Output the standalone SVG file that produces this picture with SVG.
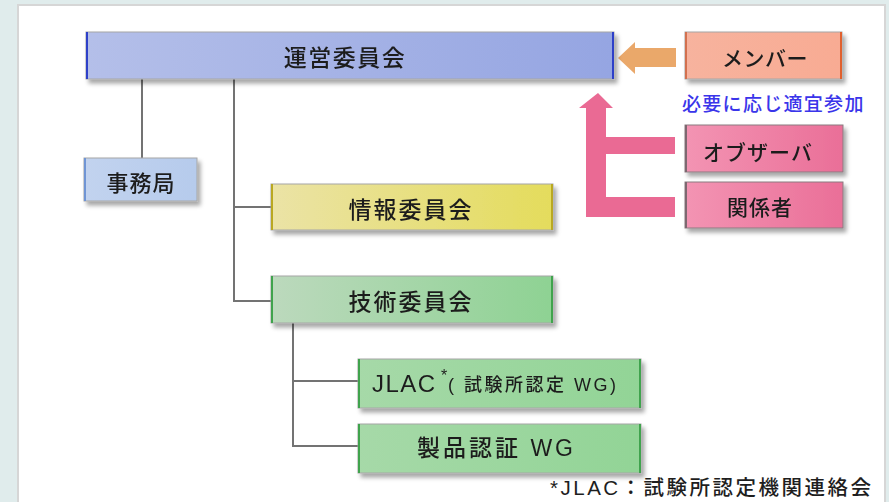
<svg xmlns="http://www.w3.org/2000/svg" width="889" height="502" viewBox="0 0 889 502">
<style>
.t{font-family:"Noto Sans CJK JP","Liberation Sans",sans-serif;fill:#1e1e1e;dominant-baseline:central;text-anchor:middle;font-weight:500}
.m{font-family:"Liberation Sans","Noto Sans CJK JP",sans-serif;fill:#1e1e1e;font-weight:500}
.box{stroke:#a6a6a6;stroke-width:1}
.ln{fill:none;stroke:#737373;stroke-width:2}
</style>
<defs>
<filter id="sh" x="-10%" y="-20%" width="125%" height="170%">
<feDropShadow dx="3" dy="4" stdDeviation="2" flood-color="#000" flood-opacity="0.35"/>
</filter>
<linearGradient id="gBlue" x1="0" x2="1" y1="0" y2="0"><stop offset="0" stop-color="#b4bfe9"/><stop offset="1" stop-color="#95a5e2"/></linearGradient>
<linearGradient id="gJimu" x1="0" x2="1"><stop offset="0" stop-color="#c2d3ef"/><stop offset="1" stop-color="#b6cbec"/></linearGradient>
<linearGradient id="gYel" x1="0" x2="1"><stop offset="0" stop-color="#ebe3a6"/><stop offset="1" stop-color="#e4dc5c"/></linearGradient>
<linearGradient id="gGrn" x1="0" x2="1"><stop offset="0" stop-color="#bcd9bd"/><stop offset="1" stop-color="#8ed293"/></linearGradient>
<linearGradient id="gGrn2" x1="0" x2="1"><stop offset="0" stop-color="#a6d9a8"/><stop offset="1" stop-color="#92d496"/></linearGradient>
<linearGradient id="gSal" x1="0" x2="1"><stop offset="0" stop-color="#f7b39e"/><stop offset="1" stop-color="#f8ab93"/></linearGradient>
<linearGradient id="gPink" x1="0" x2="1"><stop offset="0" stop-color="#f394b3"/><stop offset="1" stop-color="#ea6f98"/></linearGradient>
</defs>
<rect x="0" y="0" width="889" height="502" fill="#e0ecec"/>
<rect x="18" y="5" width="867" height="500" fill="#ffffff" stroke="#d6d6d6" stroke-width="2"/>

<g id="connectors">
<path class="ln" d="M142 79V158"/>
<path class="ln" d="M234 79V301H271M234 207H271"/>
<path class="ln" d="M293 323V446H358M293 381H358"/>
<polygon points="618,58 635,42 635,48 676,48 676,67 635,67 635,74" fill="#eaa86a"/>
<polygon points="598,93 613,108 606,108 606,137 675,137 675,154 606,154 606,197 675,197 675,217 586,217 586,108 579,108" fill="#ea6a94"/>
</g>

<g id="unei" filter="url(#sh)">
<rect class="box" x="86" y="32" width="528" height="47" fill="url(#gBlue)"/>
<rect x="86" y="32" width="2" height="47" fill="#2f40c8"/>
<rect x="612" y="32" width="2" height="47" fill="#2f40c8"/>
<text class="t" x="345" y="56" font-size="23" letter-spacing="1.5">運営委員会</text>
</g>

<g id="jimu" filter="url(#sh)">
<rect class="box" x="84" y="158" width="113" height="43" fill="url(#gJimu)"/>
<rect x="84" y="158" width="2" height="43" fill="#6f95d4"/>
<text class="t" x="141" y="181" font-size="22" letter-spacing="1">事務局</text>
</g>

<g id="joho" filter="url(#sh)">
<rect class="box" x="271" y="184" width="282" height="46" fill="url(#gYel)"/>
<rect x="271" y="184" width="2" height="46" fill="#b9a820"/>
<rect x="551" y="184" width="2" height="46" fill="#b9a820"/>
<text class="t" x="411" y="208" font-size="23" letter-spacing="2">情報委員会</text>
</g>

<g id="gijutsu" filter="url(#sh)">
<rect class="box" x="271" y="276" width="282" height="47" fill="url(#gGrn)"/>
<rect x="271" y="276" width="2" height="47" fill="#3fa34e"/>
<rect x="551" y="276" width="2" height="47" fill="#3fa34e"/>
<text class="t" x="411" y="300" font-size="23" letter-spacing="2">技術委員会</text>
</g>

<g id="jlac" filter="url(#sh)">
<rect class="box" x="358" y="359" width="283" height="49" fill="url(#gGrn2)"/>
<rect x="358" y="359" width="2" height="49" fill="#3fa34e"/>
<rect x="639" y="359" width="2" height="49" fill="#3fa34e"/>
<text class="m" x="372" y="392" font-size="24" letter-spacing="1.5">JLAC</text>
<text class="m" x="441" y="381" font-size="16">*</text>
<text class="m" x="448" y="391" font-size="18" letter-spacing="2.5">( 試験所認定 WG)</text>
</g>

<g id="seihin" filter="url(#sh)">
<rect class="box" x="358" y="424" width="283" height="49" fill="url(#gGrn2)"/>
<rect x="358" y="424" width="2" height="49" fill="#3fa34e"/>
<rect x="639" y="424" width="2" height="49" fill="#3fa34e"/>
<text class="m" x="417" y="456" font-size="23" letter-spacing="3">製品認証 WG</text>
</g>

<g id="member" filter="url(#sh)">
<rect class="box" x="685" y="32" width="157" height="47" fill="url(#gSal)"/>
<rect x="685" y="32" width="2" height="47" fill="#d2714f"/>
<rect x="840" y="32" width="2" height="47" fill="#e0602e"/>
<text class="t" x="765" y="57" font-size="21" letter-spacing="0.5">メンバー</text>
</g>

<g id="note-join">
<text class="m" x="682" y="111" font-size="19" letter-spacing="1.3" style="fill:#3a35ea">必要に応じ適宜参加</text>
</g>

<g id="observer" filter="url(#sh)">
<rect x="685" y="125" width="158" height="47" fill="url(#gPink)" stroke="#8a7a80" stroke-width="1"/>
<rect x="685" y="125" width="2" height="47" fill="#7d6870"/>
<text class="t" x="758" y="151" font-size="21" letter-spacing="1">オブザーバ</text>
</g>

<g id="kankei" filter="url(#sh)">
<rect x="685" y="182" width="158" height="46" fill="url(#gPink)" stroke="#8a7a80" stroke-width="1"/>
<rect x="685" y="182" width="2" height="46" fill="#7d6870"/>
<text class="t" x="760" y="206" font-size="21" letter-spacing="1">関係者</text>
</g>

<g id="footnote">
<text class="m" x="550" y="495" font-size="20.5" letter-spacing="2.5">*JLAC：試験所認定機関連絡会</text>
</g>
</svg>
